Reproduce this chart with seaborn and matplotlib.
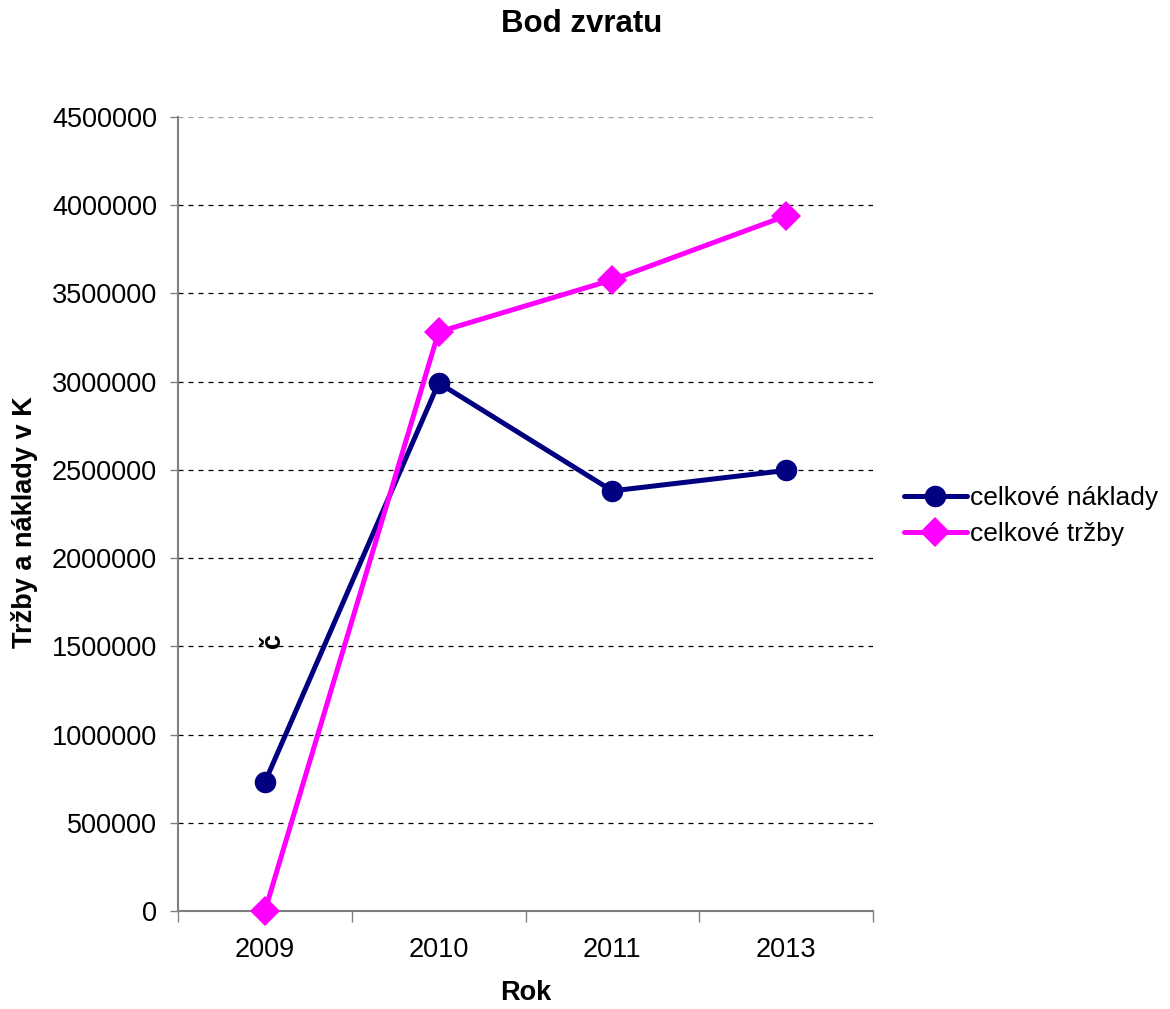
import matplotlib
matplotlib.use("Agg")
import matplotlib.pyplot as plt
import seaborn as sns
import pandas as pd
from matplotlib.ticker import FixedLocator

years = ["2009", "2010", "2011", "2013"]
naklady = [730000, 2993000, 2381000, 2497000]
trzby = [0, 3282000, 3577000, 3940000]
series_names = ["celkové náklady", "celkové tržby"]
yticks = [0, 500000, 1000000, 1500000, 2000000, 2500000, 3000000, 3500000, 4000000, 4500000]

df = pd.DataFrame({
    "Rok": years + years,
    "hodnota": naklady + trzby,
    "serie": [series_names[0]] * len(years) + [series_names[1]] * len(years),
})

sns.set_theme(style="white")
plt.rcParams["font.family"] = ["Liberation Sans", "DejaVu Sans"]
plt.rcParams["text.color"] = "black"
plt.rcParams["xtick.color"] = "black"
plt.rcParams["ytick.color"] = "black"
plt.rcParams["axes.labelcolor"] = "black"

fig = plt.figure(figsize=(11.70, 10.09), dpi=100)
ax = fig.add_axes([178 / 1170, 1 - 911 / 1009, (873 - 178) / 1170, (911 - 117) / 1009])

palette = {series_names[0]: "#000080", series_names[1]: "#FF00FF"}
markers = {series_names[0]: "o", series_names[1]: "D"}
sns.lineplot(data=df, x="Rok", y="hodnota", hue="serie", style="serie",
             markers=markers, dashes=False, palette=palette, linewidth=3.6,
             markersize=15.5, markeredgewidth=0, sort=False, ax=ax, legend=True)
for ln in ax.get_lines():
    ln.set_clip_on(False)
    ln.set_zorder(5)

ax.set_xlim(-0.5, 3.5)
ax.set_ylim(0, 4500000)
ax.yaxis.set_major_locator(FixedLocator(yticks))
ax.set_yticklabels([str(v) for v in yticks], fontsize=19.5)
ax.xaxis.set_minor_locator(FixedLocator([-0.5, 0.5, 1.5, 2.5, 3.5]))
ax.tick_params(axis="x", which="major", length=0, pad=19, labelsize=19.5)
ax.tick_params(axis="x", which="minor", length=8, width=1, color="#808080", direction="out", bottom=True)
ax.tick_params(axis="y", length=6, width=1, color="#808080", direction="out", left=True, pad=9)

for s in ["top", "right"]:
    ax.spines[s].set_visible(False)
for s in ["left", "bottom"]:
    ax.spines[s].set_color("#808080")
    ax.spines[s].set_linewidth(1.5)

ax.yaxis.grid(True, color="black", linestyle=(0, (4, 4)), linewidth=0.9)
gl = ax.get_ygridlines()
gl[-1].set_color("#a0a0a0")
gl[0].set_visible(False)

ax.set_xlabel("Rok", fontsize=19.5, fontweight="bold", labelpad=12)
ax.set_ylabel("")
fig.text(25 / 1170, 1 - 522 / 1009, "Tržby a náklady v K", rotation=90,
         fontsize=19.5, fontweight="bold", ha="center", va="center")
fig.text(273 / 1170, 1 - 640 / 1009, "č", rotation=90,
         fontsize=19.5, fontweight="bold", ha="center", va="center")
fig.text(582 / 1170, 1 - 24 / 1009, "Bod zvratu", fontsize=22.5,
         fontweight="bold", ha="center", va="center")

handles, labels = ax.get_legend_handles_labels()
ax.legend(handles, labels, loc="center left", bbox_to_anchor=(893 / 1170, 1 - 516 / 1009),
          bbox_transform=fig.transFigure, frameon=False, fontsize=19,
          handlelength=2.4, handletextpad=0.1, labelspacing=0.45, borderaxespad=0)

fig.savefig("out.png", dpi=100)
